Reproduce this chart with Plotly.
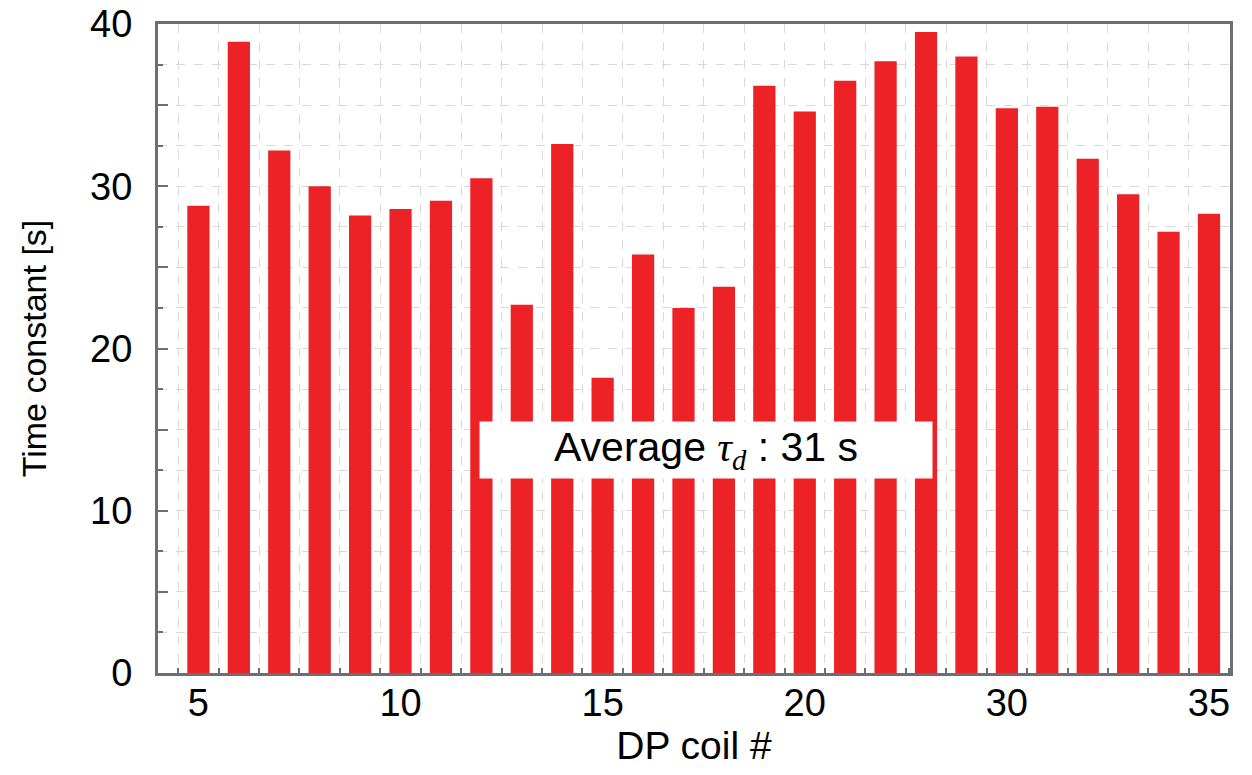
import plotly.graph_objects as go

coil = [5, 6, 7, 8, 9, 10, 11, 12, 13, 14, 15, 16, 17, 18, 19, 20,
        21, 22, 23, 24, 25, 26, 27, 28, 29, 30]
tau = [28.8, 38.9, 32.2, 30.0, 28.2, 28.6, 29.1, 30.5, 22.7, 32.6, 18.2, 25.8,
       22.5, 23.8, 36.2, 34.6, 36.5, 37.7, 39.5, 38.0, 34.8, 34.9, 31.7, 29.5,
       27.2, 28.3]

x_tickvals = [5, 10, 15, 20, 25, 30]
x_ticktext = ["5", "10", "15", "20", "30", "35"]
y_tickvals = [0, 5, 10, 15, 20, 25, 30, 35, 40]
y_ticktext = ["0", "", "10", "", "20", "", "30", "", "40"]

annotation_text = ('Average <span style="font-family:\'Liberation Serif\', \'DejaVu Serif\', serif">'
                   '<i>τ<sub>d</sub></i></span> : 31 s')

fig = go.Figure()
fig.add_trace(go.Bar(x=coil, y=tau, width=0.55,
                     marker=dict(color="#ec2227", line=dict(width=0))))

axis_line = "#6b6e75"
grid_col = "#d9d9d9"

fig.update_layout(
    width=1244, height=767,
    margin=dict(l=150, r=22, t=16, b=102),
    paper_bgcolor="white", plot_bgcolor="white",
    font=dict(family="Liberation Sans, Arial, sans-serif", color="black"),
    showlegend=False,
    xaxis=dict(
        range=[4.0, 30.52], automargin=False,
        tickmode="array", tickvals=x_tickvals, ticktext=x_ticktext,
        tickfont=dict(size=38), ticks="", showgrid=False,
        showline=True, linecolor=axis_line, linewidth=3, mirror=True,
        zeroline=False, ticklabelstandoff=-6, ticklabeloverflow="allow",
        minor=dict(tickmode="linear", tick0=4.5, dtick=1, ticks="inside",
                   ticklen=5, tickwidth=2, tickcolor=axis_line,
                   showgrid=True, gridcolor=grid_col, griddash="dash", gridwidth=1),
        title=dict(text="DP coil #", font=dict(size=39), standoff=4),
    ),
    yaxis=dict(
        range=[0, 40], automargin=False,
        tickmode="array", tickvals=y_tickvals, ticktext=y_ticktext,
        tickfont=dict(size=38), ticks="inside", ticklen=10, tickwidth=2,
        tickcolor=axis_line,
        showgrid=True, gridcolor=grid_col, griddash="dash", gridwidth=1,
        showline=True, linecolor=axis_line, linewidth=3, mirror=True,
        zeroline=False, ticklabelstandoff=15, ticklabeloverflow="allow",
        minor=dict(tickmode="linear", tick0=0, dtick=2.5, ticks="inside",
                   ticklen=5, tickwidth=2, tickcolor=axis_line,
                   showgrid=True, gridcolor=grid_col, griddash="dash", gridwidth=1),
        title=dict(text="Time constant [s]", font=dict(size=34), standoff=34),
    ),
    annotations=[dict(
        x=17.56, y=13.74, xref="x", yref="y",
        text=annotation_text, showarrow=False,
        xanchor="center", yanchor="middle",
        width=452, height=56, borderpad=0,
        bgcolor="white", font=dict(size=41, color="black"),
    )],
)

fig.write_html("out.html")
